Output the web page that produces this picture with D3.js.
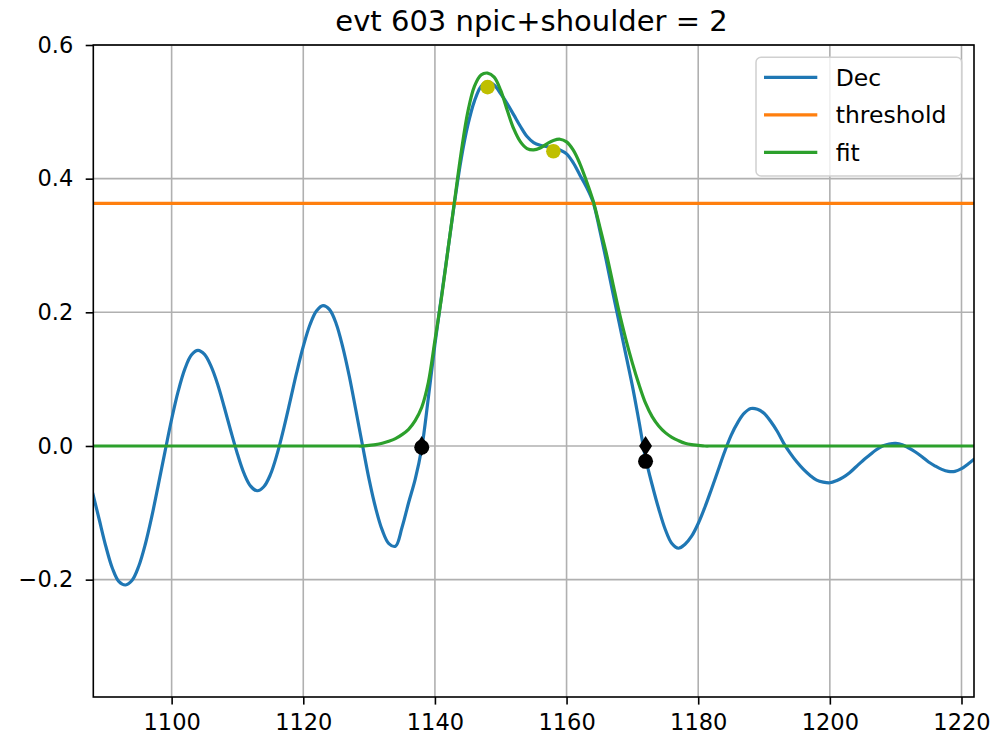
<!DOCTYPE html>
<html>
<head>
<meta charset="utf-8">
<script src="https://cdn.jsdelivr.net/npm/d3@7"></script>
<style>
  body { margin: 0; background: #fff; }
  text { font-family: "DejaVu Sans", sans-serif; fill: #000; }
</style>
</head>
<body>
<svg id="svg"></svg>
<script>
'use strict';

// ================================= data ======================================
var xStart = 1088;   // first sample, one sample per unit
var decValues = [
    -0.070, -0.110, -0.150, -0.183, -0.203, -0.208, -0.201, -0.180, -0.147, -0.105, // 1088
    -0.057, -0.008, 0.040, 0.082, 0.115, 0.136, 0.143, 0.137, 0.119, 0.092,         // 1098
    0.058, 0.022, -0.012, -0.041, -0.060, -0.067, -0.061, -0.043, -0.013, 0.025,     // 1108
    0.067, 0.110, 0.149, 0.181, 0.202, 0.210, 0.204, 0.183, 0.148, 0.104,            // 1118
    0.053, 0.001, -0.050, -0.093, -0.126, -0.146, -0.150, -0.122, -0.085, -0.050,    // 1128
    -0.003, 0.072, 0.152, 0.224, 0.295, 0.366, 0.430, 0.480, 0.516, 0.538,          // 1138
    0.545, 0.540, 0.527, 0.512, 0.495, 0.478, 0.463, 0.454, 0.450, 0.448,            // 1148
    0.446, 0.443, 0.437, 0.424, 0.406, 0.388, 0.366, 0.325, 0.279, 0.231,            // 1158
    0.184, 0.137, 0.090, 0.037, -0.018, -0.058, -0.094, -0.125, -0.146, -0.153,      // 1168
    -0.147, -0.135, -0.116, -0.092, -0.065, -0.037, -0.009, 0.016, 0.035, 0.049,     // 1178
    0.056, 0.055, 0.049, 0.037, 0.022, 0.004, -0.011, -0.024, -0.035, -0.044,        // 1188
    -0.051, -0.054, -0.055, -0.052, -0.047, -0.040, -0.031, -0.022, -0.014, -0.006,  // 1198
    0.000, 0.003, 0.004, 0.002, -0.003, -0.009, -0.016, -0.024, -0.030, -0.035,      // 1208
    -0.038, -0.038, -0.034, -0.027, -0.019                                          // 1218
];
var fitValues = [
    0, 0, 0, 0, 0, 0, 0, 0, 0, 0,                                                   // 1088
    0, 0, 0, 0, 0, 0, 0, 0, 0, 0,                                                   // 1098
    0, 0, 0, 0, 0, 0, 0, 0, 0, 0,                                                   // 1108
    0, 0, 0, 0, 0, 0, 0, 0, 0, 0,                                                   // 1118
    0, 0, 0.001, 0.002, 0.004, 0.007, 0.011, 0.017, 0.025, 0.038,                    // 1128
    0.058, 0.095, 0.158, 0.222, 0.295, 0.368, 0.440, 0.500, 0.538, 0.555,           // 1138
    0.558, 0.552, 0.532, 0.502, 0.474, 0.455, 0.445, 0.443, 0.446, 0.452,           // 1148
    0.457, 0.459, 0.455, 0.443, 0.423, 0.397, 0.368, 0.330, 0.290, 0.245,           // 1158
    0.200, 0.160, 0.124, 0.092, 0.064, 0.044, 0.030, 0.020, 0.013, 0.008,           // 1168
    0.004, 0.002, 0.001, 0, 0, 0, 0, 0, 0, 0,                                       // 1178
    0, 0, 0, 0, 0, 0, 0, 0, 0, 0,                                                   // 1188
    0, 0, 0, 0, 0, 0, 0, 0, 0, 0,                                                   // 1198
    0, 0, 0, 0, 0, 0, 0, 0, 0, 0,                                                   // 1208
    0, 0, 0, 0, 0                                                                   // 1218
];
var threshold = 0.363;

var peakX = [1148, 1158];
var peakY = [0.537, 0.441];
var edgeX = [1138, 1172];
var edgeDiamondY = [0, 0];
var edgeCircleY = [-0.002, -0.023];

var xTicks = [1100, 1120, 1140, 1160, 1180, 1200, 1220];
var yTicks = [-0.2, 0.0, 0.2, 0.4, 0.6];
var legendLabels = ["Dec", "threshold", "fit"];
var colors = ["#1f77b4", "#ff7f0e", "#2ca02c"];

var titleText = "evt 603 npic+shoulder = 2";

// ================================= layout ======================================
var width = 1003;
var height = 736;
var margin = { left: 93.3, top: 45, right: 1003 - 974, bottom: 736 - 697 };
var plotW = width - margin.left - margin.right;
var plotH = height - margin.top - margin.bottom;
var lw = 3.2;

var svg = d3.select("#svg")
    .attr("width", width)
    .attr("height", height);

var x = d3.scaleLinear().domain([1088.1, 1221.9]).range([0, plotW]);
var y = d3.scaleLinear().domain([-0.3756, 0.6]).range([plotH, 0]);

var g = svg.append("g")
    .attr("transform", "translate(" + margin.left + "," + margin.top + ")");

svg.append("defs").append("clipPath")
    .attr("id", "clip")
    .append("rect")
    .attr("width", plotW)
    .attr("height", plotH);

// grid
g.append("g")
    .selectAll("line")
    .data(xTicks)
    .join("line")
    .attr("x1", d => x(d)).attr("x2", d => x(d))
    .attr("y1", 0).attr("y2", plotH)
    .attr("stroke", "#b0b0b0").attr("stroke-width", 1.6);
g.append("g")
    .selectAll("line")
    .data(yTicks)
    .join("line")
    .attr("y1", d => y(d)).attr("y2", d => y(d))
    .attr("x1", 0).attr("x2", plotW)
    .attr("stroke", "#b0b0b0").attr("stroke-width", 1.6);

// lines
var decData = decValues.map((v, i) => [xStart + i, v]);
var fitData = fitValues.map((v, i) => [xStart + i, v]);

var line = d3.line()
    .x(d => x(d[0]))
    .y(d => y(d[1]))
    .curve(d3.curveCatmullRom);

var plot = g.append("g").attr("clip-path", "url(#clip)");

plot.append("path")
    .datum(decData)
    .attr("d", line)
    .attr("fill", "none")
    .attr("stroke", colors[0])
    .attr("stroke-width", lw)
    .attr("stroke-linejoin", "round");

plot.append("line")
    .attr("x1", 0).attr("x2", plotW)
    .attr("y1", y(threshold)).attr("y2", y(threshold))
    .attr("stroke", colors[1])
    .attr("stroke-width", lw);

plot.append("path")
    .datum(fitData)
    .attr("d", line)
    .attr("fill", "none")
    .attr("stroke", colors[2])
    .attr("stroke-width", lw)
    .attr("stroke-linejoin", "round");

// markers
plot.append("g")
    .selectAll("circle")
    .data(peakX)
    .join("circle")
    .attr("cx", d => x(d))
    .attr("cy", (d, i) => y(peakY[i]))
    .attr("r", 7.3)
    .attr("fill", "#bfbf00");

var diamond = "M0,-10L6.5,0L0,10L-6.5,0Z";
plot.append("g")
    .selectAll("path")
    .data(edgeX)
    .join("path")
    .attr("d", diamond)
    .attr("transform", (d, i) => "translate(" + x(d) + "," + y(edgeDiamondY[i]) + ")")
    .attr("fill", "#000");

plot.append("g")
    .selectAll("circle")
    .data(edgeX)
    .join("circle")
    .attr("cx", d => x(d))
    .attr("cy", (d, i) => y(edgeCircleY[i]))
    .attr("r", 7.5)
    .attr("fill", "#000");

// axes
var xAxis = g.append("g")
    .attr("transform", "translate(0," + plotH + ")")
    .call(d3.axisBottom(x).tickValues(xTicks).tickSize(7.6).tickPadding(9.5).tickFormat(d3.format("d")));
var yAxis = g.append("g")
    .call(d3.axisLeft(y).tickValues(yTicks).tickSize(7.6).tickPadding(12.5).tickFormat(d3.format(".1f")));

[xAxis, yAxis].forEach(a => {
    a.select(".domain").remove();
    a.selectAll(".tick line").attr("stroke", "#000").attr("stroke-width", 1.6);
    a.selectAll(".tick text")
        .attr("font-family", "DejaVu Sans")
        .attr("font-size", 22.5)
        .attr("fill", "#000");
});

// spines
g.append("rect")
    .attr("width", plotW)
    .attr("height", plotH)
    .attr("fill", "none")
    .attr("stroke", "#000")
    .attr("stroke-width", 1.6);

// title
svg.append("text")
    .attr("x", 531.5)
    .attr("y", 31)
    .attr("text-anchor", "middle")
    .attr("font-size", 29)
    .text(titleText);

// legend
var legend = svg.append("g");
legend.append("rect")
    .attr("x", 756).attr("y", 57.3)
    .attr("width", 205.7).attr("height", 118.7)
    .attr("rx", 5)
    .attr("fill", "#fff").attr("fill-opacity", 0.8)
    .attr("stroke", "#d0d0d0").attr("stroke-width", 1.5);

var items = legend.selectAll("g.item")
    .data(legendLabels)
    .join("g")
    .attr("class", "item")
    .attr("transform", (d, i) => "translate(0," + (77.3 + i * 37.5) + ")");
items.append("line")
    .attr("x1", 764).attr("x2", 817.3)
    .attr("stroke", (d, i) => colors[i])
    .attr("stroke-width", lw);
items.append("text")
    .attr("x", 835.7)
    .attr("dy", "0.35em")
    .attr("font-size", 23.5)
    .text(d => d);
</script>
</body>
</html>
